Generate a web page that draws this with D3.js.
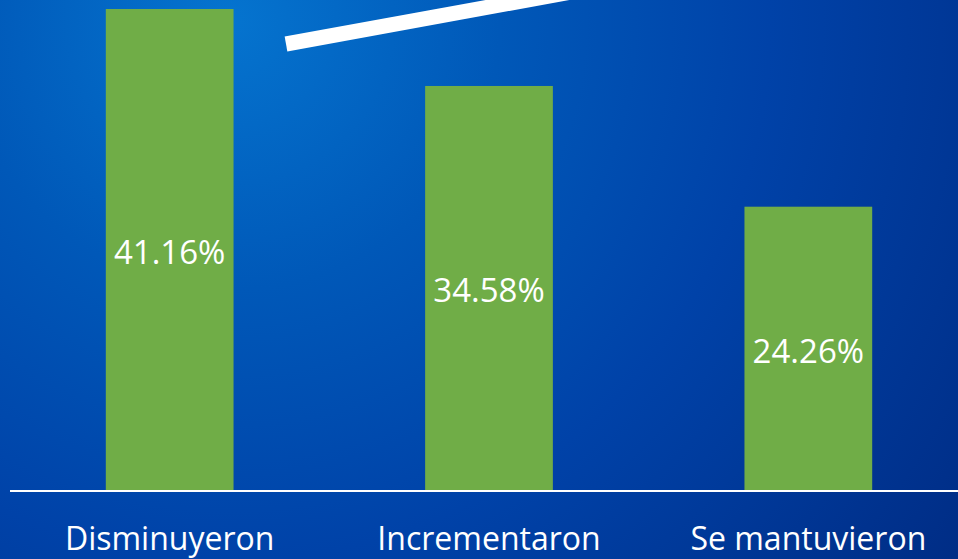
<!DOCTYPE html>
<html>
<head>
<meta charset="utf-8">
<script src="https://cdn.jsdelivr.net/npm/d3@7"></script>
<style>
  html, body { margin: 0; padding: 0; overflow: hidden; }
  svg { display: block; }
</style>
</head>
<body>
<div id="chart"></div>
<script>
// chart data
let categories = ['Disminuyeron', 'Incrementaron', 'Se mantuvieron']
let values = [41.16, 34.58, 24.26]
let valueLabels = ['41.16%', '34.58%', '24.26%']

let width = 958
let height = 559
let baseY = 490.5

let svg = d3
  .select('#chart')
  .append('svg')
  .attr('width', width)
  .attr('height', height)

// blue slide background
let defs = svg.append('defs')
let grad = defs
  .append('radialGradient')
  .attr('id', 'bg')
  .attr('gradientUnits', 'userSpaceOnUse')
  .attr('cx', 230)
  .attr('cy', 20)
  .attr('r', 900)
grad.append('stop').attr('offset', '0%').attr('stop-color', '#0574cf')
grad.append('stop').attr('offset', '30%').attr('stop-color', '#0058b8')
grad.append('stop').attr('offset', '60%').attr('stop-color', '#0042a8')
grad.append('stop').attr('offset', '100%').attr('stop-color', '#002d86')

svg
  .append('rect')
  .attr('width', width)
  .attr('height', height)
  .attr('fill', 'url(#bg)')

// decorative white stripe at the top
svg
  .append('line')
  .attr('x1', 286)
  .attr('y1', 44)
  .attr('x2', 640)
  .attr('y2', -20.5)
  .attr('stroke', 'white')
  .attr('stroke-width', 15)

// scales
let xScale = d3
  .scaleBand()
  .domain(categories)
  .range([10, 968])
  .paddingInner(0.6)
  .paddingOuter(0.3)

let yScale = d3
  .scaleLinear()
  .domain([0, values[0]])
  .range([baseY, 9])

let data = categories.map((c, i) => ({ cat: c, val: values[i], label: valueLabels[i] }))

// bars
svg
  .append('g')
  .selectAll('rect')
  .data(data)
  .enter()
  .append('rect')
  .attr('x', d => xScale(d.cat))
  .attr('y', d => yScale(d.val))
  .attr('width', xScale.bandwidth())
  .attr('height', d => baseY - yScale(d.val))
  .attr('fill', '#70ad47')

// value labels centred in the bars
svg
  .append('g')
  .selectAll('text')
  .data(data)
  .enter()
  .append('text')
  .attr('x', d => xScale(d.cat) + xScale.bandwidth() / 2)
  .attr('y', d => (yScale(d.val) + baseY) / 2 + 14)
  .attr('text-anchor', 'middle')
  .attr('fill', 'white')
  .style('font-family', "'Open Sans', sans-serif")
  .style('font-size', '33px')
  .text(d => d.label)

// baseline
svg
  .append('line')
  .attr('x1', 10)
  .attr('x2', width)
  .attr('y1', baseY + 0.5)
  .attr('y2', baseY + 0.5)
  .attr('stroke', 'white')
  .attr('stroke-width', 2)

// category axis labels
let xAxis = svg
  .append('g')
  .attr('transform', 'translate(0,' + baseY + ')')
  .call(d3.axisBottom(xScale).tickSize(0).tickPadding(0))
xAxis.select('.domain').remove()
xAxis
  .selectAll('text')
  .attr('dy', null)
  .attr('y', 59.5)
  .attr('fill', 'white')
  .style('font-family', "'Open Sans', sans-serif")
  .style('font-size', '32px')
</script>
</body>
</html>
